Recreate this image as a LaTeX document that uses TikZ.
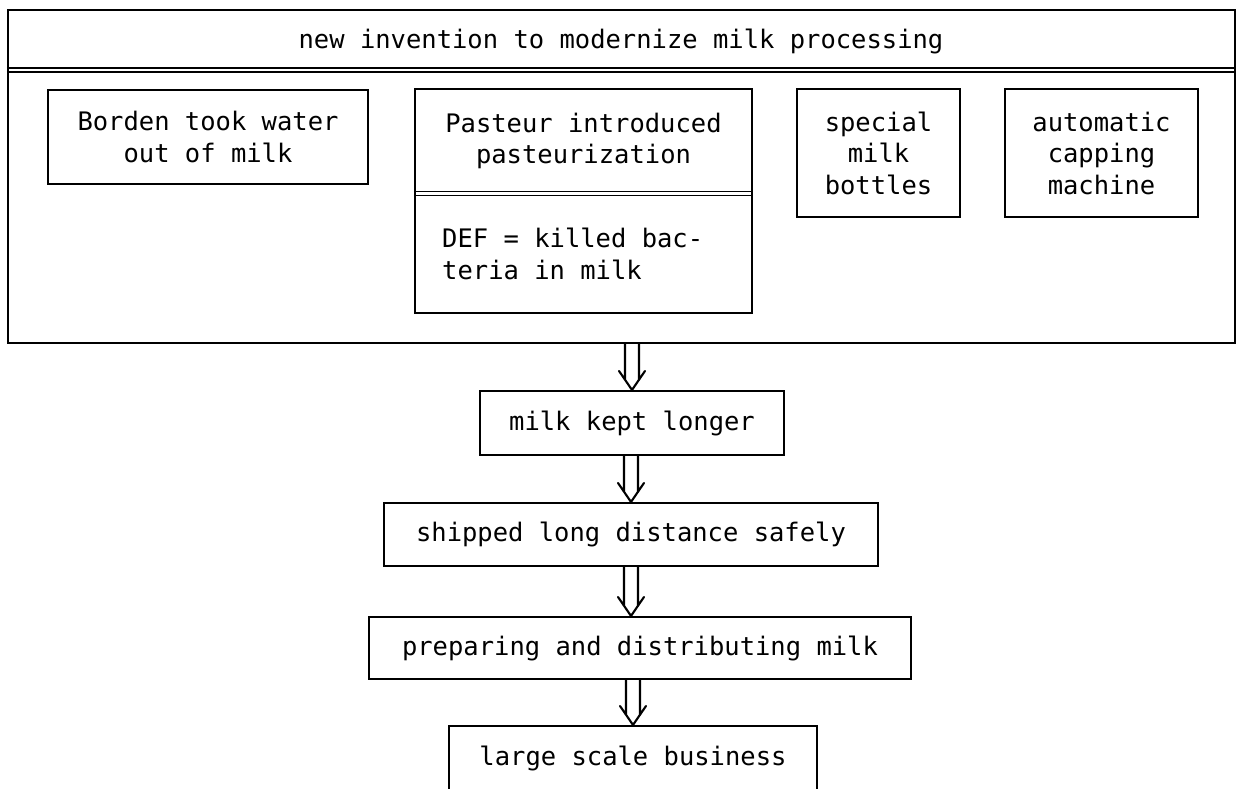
\documentclass[tikz,border=0pt]{standalone}
\usepackage{fontspec}
\setmainfont{DejaVu Sans Mono}
\usetikzlibrary{calc}
\tikzset{
  box/.style={draw, line width=2.1pt, inner sep=0pt, align=center},
  txt/.style={inner sep=0pt, align=center},
  sepline/.style={line width=1.6pt},
  dblarrow/.style={line width=2.1pt, line join=round, line cap=round,
    to path={let \p1=(\tikztostart), \p2=(\tikztotarget) in
      (\x2-7pt,\y1) -- (\x2-7pt,\y2+10pt)
      (\x2+7pt,\y1) -- (\x2+7pt,\y2+10pt)
      (\x2-13pt,\y2+19pt) -- (\x2,\y2) -- (\x2+13pt,\y2+19pt)}},
}
\begin{document}
\begin{tikzpicture}[x=1pt, y=-1pt, font=\fontsize{25.5}{31.5}\selectfont]
\useasboundingbox (0,0) rectangle (1237,788);
\clip (0,0) rectangle (1237,788);

% outer frame with its heading
\node[box, minimum width=1227pt, minimum height=333pt] (frame) at (621.5,176.5) {};
\node[txt, anchor=base] (title) at (621,48) {new invention to modernize milk processing};
\coordinate (sepa) at (0,68);
\coordinate (sepb) at (0,72);
\draw[sepline] (frame.west |- sepa) -- (frame.east |- sepa);
\draw[sepline] (frame.west |- sepb) -- (frame.east |- sepb);

% the four inventions
\node[box, minimum width=320pt, minimum height=94pt] (borden) at (208,137)
  {Borden took water\\out of milk};
\node[box, minimum width=337pt, minimum height=224pt] (pasteur) at (583.5,201) {};
\node[txt] (pasteurtext) at (583.5,141) {Pasteur introduced\\pasteurization};
\coordinate (psa) at (0,191.5);
\coordinate (psb) at (0,195.5);
\draw[sepline] (pasteur.west |- psa) -- (pasteur.east |- psa);
\draw[sepline] (pasteur.west |- psb) -- (pasteur.east |- psb);
\node[txt, align=left, anchor=west] (def) at (442,254) {DEF = killed bac-\\teria in milk};
\node[box, minimum width=163pt, minimum height=128pt] (bottles) at (878.5,153)
  {special\\milk\\bottles};
\node[box, minimum width=193pt, minimum height=128pt] (capping) at (1101.5,153)
  {automatic\\capping\\machine};

% chain of consequences
\node[box, minimum width=304pt, minimum height=64pt] (kept) at (632,423) {milk kept longer};
\node[box, minimum width=494pt, minimum height=63pt] (ship) at (631,534.5) {shipped long distance safely};
\node[box, minimum width=542pt, minimum height=62pt] (prep) at (640,648) {preparing and distributing milk};
\node[box, minimum width=368pt, minimum height=64pt] (large) at (633,758) {large scale business};

\draw[dblarrow] (kept.north |- frame.south) to (kept.north);
\draw[dblarrow] (kept.south) to (ship.north);
\draw[dblarrow] (ship.south) to (ship.south |- prep.north);
\draw[dblarrow] (prep.south -| large.north) to (large.north);
\end{tikzpicture}
\end{document}
